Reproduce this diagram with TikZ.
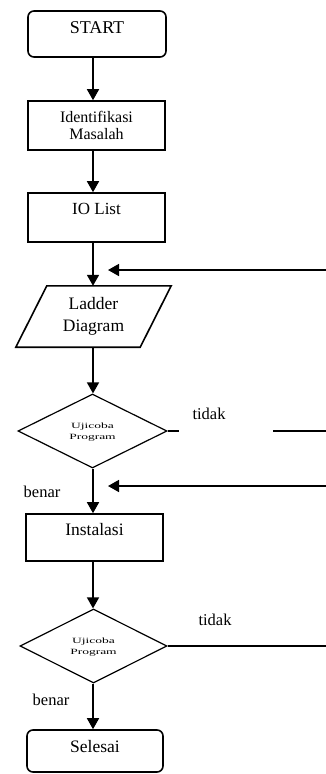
\documentclass[tikz,border=0pt]{standalone}
\usepackage{fontspec}
\setmainfont{Liberation Serif}
\usetikzlibrary{shapes.geometric,arrows.meta}
\begin{document}
\begin{tikzpicture}[x=1pt,y=-1pt,
  box/.style={draw,line width=1.6pt,minimum width=137pt,inner sep=0pt,align=center,font=\fontsize{16}{17}\selectfont},
  rbox/.style={box,rounded corners=6pt},
  dec/.style={draw,diamond,line width=1.2pt,inner sep=0pt,aspect=2,align=center},
  arr/.style={line width=1.6pt,-{Triangle[length=11pt,width=12pt]}},
  ln/.style={line width=1.2pt},
  lbl/.style={font=\fontsize{16.5}{17}\selectfont,inner sep=0pt}]
\useasboundingbox (0,0) rectangle (326,774);
\coordinate (col) at (93,0);
% nodes
\node[rbox,minimum width=138pt,minimum height=46pt,text height=12pt,text depth=14pt] (start) at (97,34) {\fontsize{18}{17}\selectfont START};
\node[box,minimum height=49pt] (ident) at (96.5,125.5) {Identifikasi\\Masalah};
\node[box,minimum height=49pt,text height=12pt,text depth=18pt] (io) at (96.5,217.5) {\fontsize{17}{17}\selectfont IO List};
\node[inner sep=0pt,minimum width=124pt,minimum height=61pt,align=center,font=\fontsize{17.5}{22}\selectfont] (lad) at (93.5,316.5) {Ladder\\Diagram};
\draw[line width=1.6pt] ([xshift=15.5pt]lad.north west) -- ([xshift=15.5pt]lad.north east) -- ([xshift=-15.5pt]lad.south east) -- ([xshift=-15.5pt]lad.south west) -- cycle;
\node[dec,minimum width=149pt,minimum height=74pt] (d1) at (92.5,431) {\scalebox{1.35}[0.8]{\fontsize{10}{18}\selectfont\begin{tabular}{@{}c@{}}Ujicoba\\[-4pt]Program\end{tabular}}};
\node[box,minimum height=47pt,text height=12pt,text depth=16pt] (ins) at (94.5,537.5) {\fontsize{17.5}{17}\selectfont Instalasi};
\node[dec,minimum width=147pt,minimum height=74pt] (d2) at (93.5,646) {\scalebox{1.35}[0.8]{\fontsize{10}{18}\selectfont\begin{tabular}{@{}c@{}}Ujicoba\\[-4pt]Program\end{tabular}}};
\node[rbox,minimum width=136pt,minimum height=42pt,text height=12pt,text depth=9pt] (sel) at (95,751) {\fontsize{17.5}{17}\selectfont Selesai};
% labels
\node[lbl] (t1) at (209,414) {tidak};
\node[lbl] (b1) at (42,492) {benar};
\node[lbl] (t2) at (215,620) {tidak};
\node[lbl] (b2) at (51,700) {benar};
% main flow
\draw[arr] (start.south -| col) -- (ident.north -| col);
\draw[arr] (ident.south -| col) -- (io.north -| col);
\draw[arr] (io.south -| col) -- (lad.north -| col);
\draw[arr] (lad.south -| col) -- (d1.north -| col);
\draw[arr] (d1.south -| col) -- (ins.north -| col);
\draw[arr] (ins.south -| col) -- (d2.north -| col);
\draw[arr] (d2.south -| col) -- (sel.north -| col);
% feedback lines
\coordinate (r1) at (326,270);
\coordinate (p1) at (108,270);
\coordinate (r2) at (326,486);
\coordinate (p2) at (108,486);
\coordinate (g1) at (273,431);
\coordinate (e1) at (326,431);
\coordinate (e2) at (326,646);
\draw[arr] (r1) -- (p1);
\draw[arr] (r2) -- (p2);
\draw[ln] (d1.east) -- ++(11,0);
\draw[ln] (g1) -- (e1);
\draw[ln] (d2.east) -- (e2);
\end{tikzpicture}
\end{document}
